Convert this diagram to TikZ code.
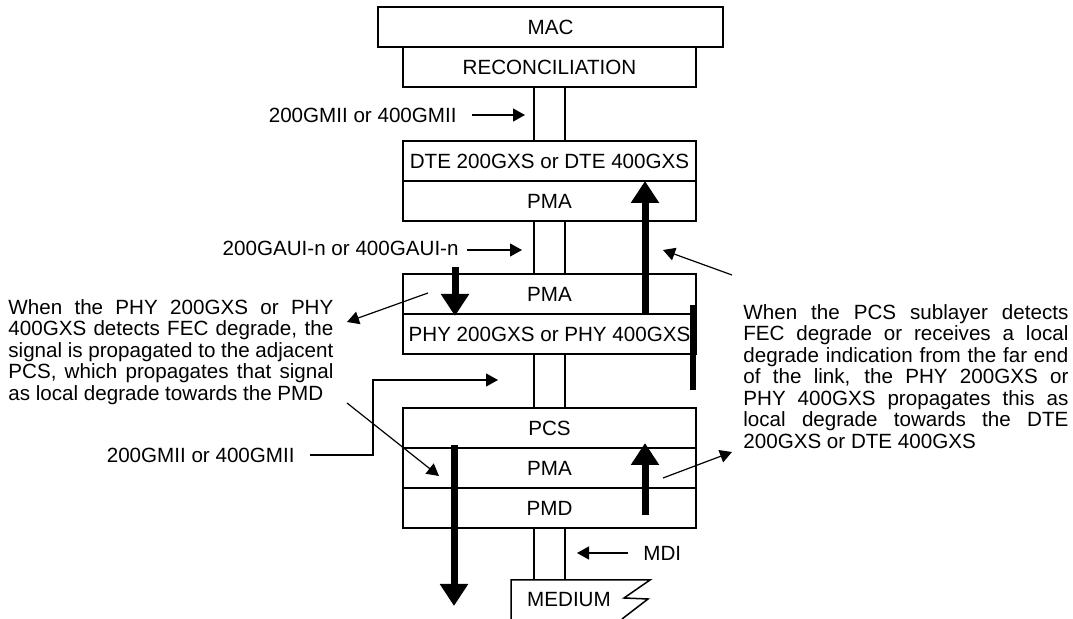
\documentclass[tikz,border=0pt]{standalone}
\usepackage{fontspec}
\setmainfont{Liberation Sans}
\usetikzlibrary{positioning,arrows.meta}

\newcommand{\jline}[1]{\makebox[162.5pt][s]{#1}}

\tikzset{
  layer/.style={draw, line width=0.75pt, minimum width=146.5pt, minimum height=20pt, inner sep=0pt, outer sep=0pt},
  pipe/.style={line width=0.75pt},
  thin/.style={line width=0.6pt, -{Triangle[length=6pt,width=6.5pt]}},
  signal/.style={line width=3.5pt, -{Triangle[length=11pt,width=13.5pt]}},
  note/.style={align=left, inner sep=0pt},
  tag/.style={inner sep=0pt}
}

\begin{document}
\begin{tikzpicture}[x=0.5pt, y=-0.5pt, font=\fontsize{10.3pt}{10.75pt}\selectfont]
    \useasboundingbox (0,0) rectangle (1073,619);

    % Upper stack
    \node[layer, minimum width=172.5pt] (mac) at (550.5,27) {MAC};
    \node[layer] (recon) at (549.5,67) {RECONCILIATION};
    \node[layer] (dte) at (549.5,161) {DTE 200GXS or DTE 400GXS};
    \node[layer, below=0pt of dte] (dtepma) {PMA};

    % PHY
    \node[layer] (phypma) at (549.5,294) {PMA};
    \node[layer, below=0pt of phypma] (phy) {PHY 200GXS or PHY 400GXS};

    % Lower stack
    \node[layer] (pcs) at (549.5,428) {PCS};
    \node[layer, below=0pt of pcs] (pcspma) {PMA};
    \node[layer, below=0pt of pcspma] (pmd) {PMD};

    % Medium
    \coordinate (medtop) at (549.5,580);
    \draw[pipe] (511,619) -- (511,580) -- (650,580) -- (624,598) -- (648,599) -- (622,619);
    \node (medium) at (569,600) {MEDIUM};

    % Interfaces between the layers
    \foreach \a/\b in {recon/dte, dtepma/phypma, phy/pcs}
        \foreach \s in {-7.75pt,7.75pt}
            \draw[pipe] ([xshift=\s]\a.south) -- ([xshift=\s]\b.north);
    \foreach \s in {-7.75pt,7.75pt}
        \draw[pipe] ([xshift=\s]pmd.south) -- ([xshift=\s]pmd.south |- medtop);

    % Interface labels
    \node[tag, anchor=east] (gmiitop) at (457,115) {200GMII or 400GMII};
    \draw[thin] ([xshift=7.5pt]gmiitop.east) -- ++(53,0);
    \node[tag, anchor=east] (gaui) at (459,248) {200GAUI-n or 400GAUI-n};
    \draw[thin] ([xshift=4pt,yshift=-1pt]gaui.east) -- ++(55,0);
    \node[tag, anchor=east] (gmiibot) at (295,455) {200GMII or 400GMII};
    \coordinate (bend) at (373,380);
    \coordinate (phyin) at (498,380);
    \draw[thin] ([xshift=7.5pt]gmiibot.east) -| (bend) -- (phyin);
    \node[tag, anchor=west] (mdi) at (643,553) {MDI};
    \draw[thin] ([xshift=-7.5pt]mdi.west) -- ++(-51,0);

    % Notes
    \node[note, anchor=north west] (lefttext) at (8,299) {%
        \jline{When the PHY 200GXS or PHY}\\
        \jline{400GXS detects FEC degrade, the}\\
        \jline{signal is propagated to the adjacent}\\
        \jline{PCS, which propagates that signal}\\
        as local degrade towards the PMD};
    \node[note, anchor=north west] (righttext) at (743,304) {%
        \jline{When the PCS sublayer detects}\\
        \jline{FEC degrade or receives a local}\\
        \jline{degrade indication from the far end}\\
        \jline{of the link, the PHY 200GXS or}\\
        \jline{PHY 400GXS propagates this as}\\
        \jline{local degrade towards the DTE}\\
        200GXS or DTE 400GXS};

    % Pointers from the notes
    \coordinate (ltail) at (428,293);
    \coordinate (ltip) at (347,322);
    \draw[thin] (ltail) -- (ltip);
    \coordinate (ptail) at (347,403);
    \coordinate (ptip) at (439,476);
    \draw[thin] (ptail) -- (ptip);
    \coordinate (rtail) at (732,275);
    \coordinate (rtip) at (663,250);
    \draw[thin] (rtail) -- (rtip);
    \coordinate (qtail) at (663,478);
    \coordinate (qtip) at (732,452);
    \draw[thin] (qtail) -- (qtip);

    % Degrade signals
    \draw[signal] (455,267) -- (455,316);
    \draw[signal] (645,314) -- (645,181);
    \draw[line width=3pt] (693,305) -- (693,390);
    \draw[signal] (454,445) -- (454,606);
    \draw[signal] (645,515) -- (645,443);
\end{tikzpicture}
\end{document}
